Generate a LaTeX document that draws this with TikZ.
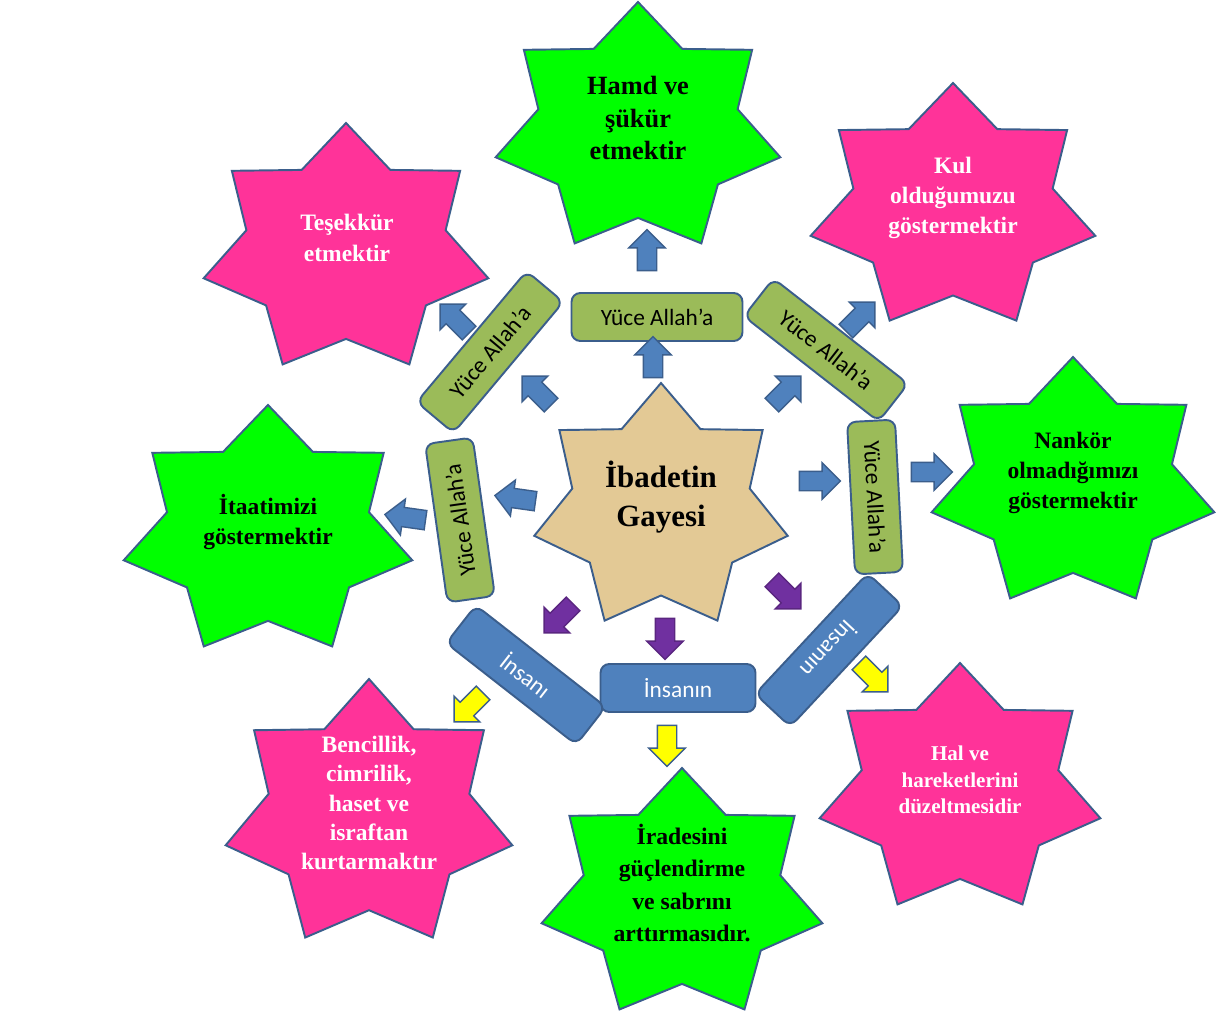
\documentclass[tikz,border=0pt]{standalone}
\usepackage{fontspec}
\setmainfont{Liberation Serif}
\newfontfamily\kutufont{Carlito}
\usetikzlibrary{shapes.arrows}

\definecolor{kenar}{HTML}{3B5E8C}
\definecolor{yesil}{HTML}{00FF00}
\definecolor{pembe}{HTML}{FF3399}
\definecolor{papirus}{HTML}{E3C995}
\definecolor{kutuyesil}{HTML}{9BBB59}
\definecolor{kutumavi}{HTML}{4F81BD}
\definecolor{okmor}{HTML}{7030A0}
\definecolor{oksari}{HTML}{FFFF00}

\tikzset{
  yildiz/.style={draw=kenar, line width=1.1pt, line join=miter},
  yazi/.style={align=center, inner sep=0pt, font=\bfseries\fontsize{13.4}{17.3}\selectfont},
  kutu/.style={draw=kenar, line width=1.1pt, rounded corners=5pt, inner sep=0pt, minimum height=0.96cm, font=\kutufont\fontsize{13.3}{16}\selectfont},
  yesilkutu/.style={kutu, fill=kutuyesil, text=black, minimum width=3.42cm},
  mavikutu/.style={kutu, fill=kutumavi, text=white, minimum width=3.3cm},
  ok/.style={single arrow, draw=kenar, line width=0.8pt, inner xsep=0pt, inner ysep=0.18cm, single arrow head extend=0.17cm, minimum height=0.82cm},
}

% seven pointed star: name, x, y, x radius, y radius, fill
\newcommand{\yedili}[6]{%
  \draw[yildiz, fill=#6, shift={(#2,#3)}] (90:#4 and #5)
    \foreach \k in {1,...,13} {
      -- ({90+\k*360/14}:{(1-0.3*mod(\k,2))*#4} and {(1-0.3*mod(\k,2))*#5})
    } -- cycle;
  \coordinate (#1) at (#2,#3);
}

\begin{document}
\begin{tikzpicture}[x=0.02cm, y=0.02cm]
\useasboundingbox (0,0) rectangle (1230,-1014);

\yedili{s1}{638}{-129}{146}{127}{yesil}
\yedili{s2}{346}{-250}{146}{127}{pembe}
\yedili{s3}{953}{-208}{146}{125}{pembe}
\yedili{s4}{268}{-532}{148}{127}{yesil}
\yedili{s5}{1073}{-484}{145}{127}{yesil}
\yedili{s6}{369}{-815}{147}{136}{pembe}
\yedili{s7}{682}{-895}{144}{127}{yesil}
\yedili{s8}{960}{-790}{144}{127}{pembe}
\yedili{s0}{661}{-508}{130}{125}{papirus}

\node[yazi, font=\bfseries\fontsize{15}{18.4}\selectfont] (hamd) at (638,-118) {Hamd ve\\şükür\\etmektir};
\node[yazi, text=white] (tesekkur) at (347,-238) {Teşekkür\\etmektir};
\node[yazi, text=white] (kul) at (953,-198) {Kul\\olduğumuzu\\göstermektir};
\node[yazi] (itaat) at (268,-522) {İtaatimizi\\göstermektir};
\node[yazi] (nankor) at (1073,-473) {Nankör\\olmadığımızı\\göstermektir};
\node[yazi, text=white, font=\bfseries\fontsize{13.4}{16.7}\selectfont] (bencil) at (369,-803) {Bencillik,\\cimrilik,\\haset ve\\israftan\\kurtarmaktır};
\node[yazi, font=\bfseries\fontsize{13.5}{18.4}\selectfont] (irade) at (682,-883) {İradesini\\güçlendirme\\ve sabrını\\arttırmasıdır.};
\node[yazi, text=white, font=\bfseries\fontsize{12}{15}\selectfont] (hal) at (960,-780) {Hal ve\\hareketlerini\\düzeltmesidir};
\node[yazi, font=\bfseries\fontsize{17.6}{22}\selectfont] (ibadet) at (661,-497) {İbadetin\\Gayesi};

\node[yesilkutu] (k1) at (657,-317) {Yüce Allah’a};
\node[yesilkutu, rotate=50] (k2) at (490,-352) {Yüce Allah’a};
\node[yesilkutu, rotate=-38] (k3) at (826,-350) {Yüce Allah’a};
\node[yesilkutu, rotate=98, minimum width=3.2cm] (k4) at (460,-520) {Yüce Allah’a};
\node[yesilkutu, rotate=-87, minimum width=3.05cm] (k5) at (875,-497) {Yüce Allah’a};
\node[mavikutu, minimum width=3.1cm] (k6) at (678,-688) {İnsanın};
\node[mavikutu, rotate=-38] (k7) at (526,-675) {İnsanı};
\node[mavikutu, rotate=-133] (k8) at (829,-650) {İnsanın};

\node[ok, fill=kutumavi, rotate=90] (a1) at (653,-362) {};
\node[ok, fill=kutumavi, rotate=135] (a2) at (540,-394) {};
\node[ok, fill=kutumavi, rotate=45] (a3) at (783,-394) {};
\node[ok, fill=kutumavi, rotate=172] (a4) at (520,-499) {};
\node[ok, fill=kutumavi, rotate=0] (a5) at (815,-481) {};
\node[ok, fill=kutumavi, rotate=90] (b1) at (647,-255) {};
\node[ok, fill=kutumavi, rotate=135] (b2) at (458,-322) {};
\node[ok, fill=kutumavi, rotate=45] (b3) at (857,-320) {};
\node[ok, fill=kutumavi, rotate=172] (b4) at (410,-518) {};
\node[ok, fill=kutumavi, rotate=0] (b5) at (927,-472) {};
\node[ok, fill=okmor, draw=okmor!80!black, rotate=-90] (m1) at (665,-634) {};
\node[ok, fill=okmor, draw=okmor!80!black, rotate=-135] (m2) at (562,-615) {};
\node[ok, fill=okmor, draw=okmor!80!black, rotate=-45] (m3) at (783,-591) {};
\node[ok, fill=oksari, rotate=-90] (y1) at (667,-741) {};
\node[ok, fill=oksari, rotate=-135] (y2) at (472,-704) {};
\node[ok, fill=oksari, rotate=-45] (y3) at (870,-674) {};
\end{tikzpicture}
\end{document}
